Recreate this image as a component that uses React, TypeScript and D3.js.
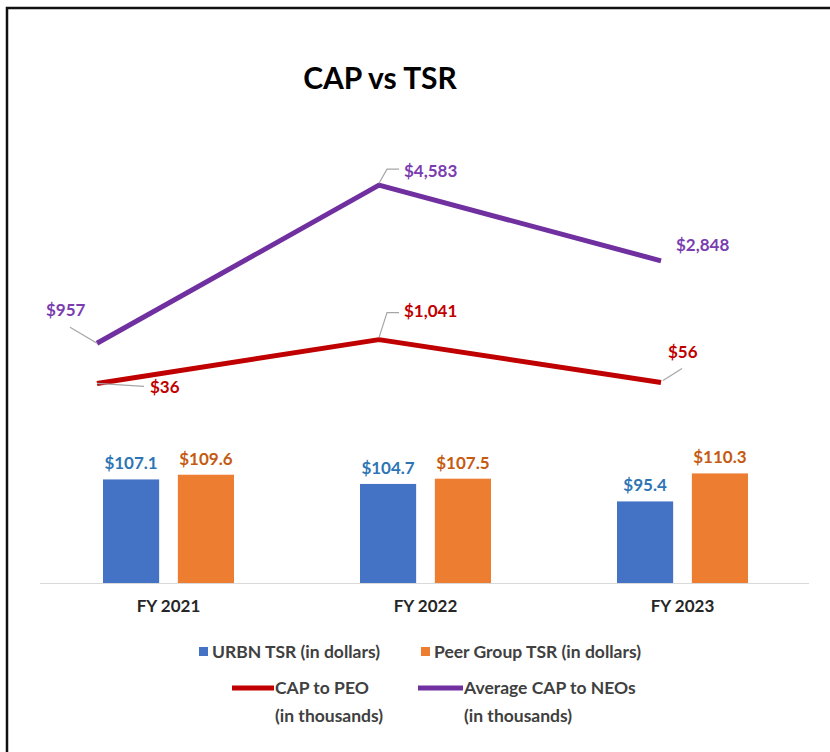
import React from 'react'
import * as d3 from 'd3'

const years = ['FY 2021', 'FY 2022', 'FY 2023']
const urbnTsr = [107.1, 104.7, 95.4]
const peerTsr = [109.6, 107.5, 110.3]
const capPeo = [36, 1041, 56]
const capNeo = [957, 4583, 2848]

// where each line label sits relative to its point, plus leader path offsets
const peoLabels = [
  { dx: 53, dy: 4, leader: [[0, 0], [47, 3]] },
  { dx: 25, dy: -29, leader: [[0, -2], [8, -27], [20, -27]] },
  { dx: 7, dy: -31, leader: [[2, -2], [21, -14]] },
]
const neoLabels = [
  { dx: -51, dy: -33, leader: [[0, 0], [-27, -16]] },
  { dx: 25, dy: -14, leader: [[0, -2], [8, -16], [20, -16]] },
  { dx: 15, dy: -16, leader: null },
]

const BLUE = '#4472C4'
const ORANGE = '#ED7D31'
const RED = '#C00000'
const PURPLE = '#7030A0'
const FONT = 'Lato, "Open Sans", sans-serif'

const money = (v: number) => '$' + d3.format(',')(v)

export default function App() {
  const width = 830
  const height = 752

  const xBand = d3.scaleBand().domain(years).range([40, 811]).paddingInner(0).paddingOuter(0)
  const xSub = d3.scaleBand().domain(['urbn', 'peer']).range([0, 131]).paddingInner(0.25).paddingOuter(0)
  const yBar = d3.scaleLinear().domain([52, 160]).range([583, 380])

  const xLine = d3.scalePoint().domain(years).range([97, 661])
  const yLine = d3.scaleLinear().domain([0, 5000]).range([385, 167])
  const line = d3.line<number>().x((_, i) => xLine(years[i])!).y(d => yLine(d))

  const groupLeft = (y: string) => xBand(y)! + xBand.bandwidth() / 2 - 65.5
  const leaderPath = d3.line()

  const barSeries = [
    { key: 'urbn', values: urbnTsr, fill: BLUE, label: '#2E75B6' },
    { key: 'peer', values: peerTsr, fill: ORANGE, label: '#C55A11' },
  ]
  const lineSeries = [
    { values: capPeo, color: RED, text: RED, labels: peoLabels },
    { values: capNeo, color: PURPLE, text: '#7A3DB0', labels: neoLabels },
  ]

  return <svg width={width} height={height} style={{ position: 'absolute', left: 0, top: 0, fontFamily: FONT }}>
    <rect width={width} height={height} fill="white" />
    <path d="M7,752 V8 H830" fill="none" stroke="#111" strokeWidth={2.5} />

    <text x={380} y={78} textAnchor="middle" dy="0.35em" fontSize={30} fontWeight="bold" fill="#000">CAP vs TSR</text>

    {/* bars */}
    {barSeries.map(s => <g key={s.key}>
      {years.map((y, i) => {
        const x = groupLeft(y) + xSub(s.key)!
        const top = yBar(s.values[i])
        return <g key={y}>
          <rect x={x} y={top} width={xSub.bandwidth()} height={yBar(52) - top} fill={s.fill} />
          <text x={x + xSub.bandwidth() / 2} y={top - 10} textAnchor="middle" fontSize={17} fontWeight="bold" fill={s.label}>
            {'$' + s.values[i].toFixed(1)}
          </text>
        </g>
      })}
    </g>)}

    <line x1={40} x2={809} y1={583.5} y2={583.5} stroke="#D9D9D9" strokeWidth={1} />
    {years.map(y => <text key={y} x={xBand(y)! + xBand.bandwidth() / 2} y={606} dy="0.35em" textAnchor="middle"
      fontSize={17} fontWeight="bold" fill="#262626">{y}</text>)}

    {/* lines */}
    {lineSeries.map((s, si) => <g key={si}>
      <path d={line(s.values)!} fill="none" stroke={s.color} strokeWidth={5} strokeLinejoin="round" />
      {s.values.map((v, i) => {
        const px = xLine(years[i])!
        const py = yLine(v)
        const lab = s.labels[i]
        return <g key={i}>
          {lab.leader && <path d={leaderPath(lab.leader.map(([a, b]) => [px + a, py + b] as [number, number]))!}
            fill="none" stroke="#A6A6A6" strokeWidth={1.2} />}
          <text x={px + lab.dx} y={py + lab.dy} dy="0.35em" fontSize={17} fontWeight="bold" fill={s.text}>
            {money(v)}
          </text>
        </g>
      })}
    </g>)}

    {/* legend */}
    <g fontSize={17.5} fontWeight="bold" fill="#404040">
      <rect x={199} y={647} width={9} height={9} fill={BLUE} />
      <text x={212} y={652} dy="0.35em">URBN TSR (in dollars)</text>
      <rect x={421} y={647} width={9} height={9} fill={ORANGE} />
      <text x={434} y={652} dy="0.35em">Peer Group TSR (in dollars)</text>

      <line x1={232} x2={274} y1={688} y2={688} stroke={RED} strokeWidth={5} />
      <text x={275} y={688} dy="0.35em">CAP to PEO</text>
      <text x={275} y={716} dy="0.35em">(in thousands)</text>
      <line x1={418} x2={463} y1={688} y2={688} stroke={PURPLE} strokeWidth={5} />
      <text x={464} y={688} dy="0.35em">Average CAP to NEOs</text>
      <text x={464} y={716} dy="0.35em">(in thousands)</text>
    </g>
  </svg>
}
